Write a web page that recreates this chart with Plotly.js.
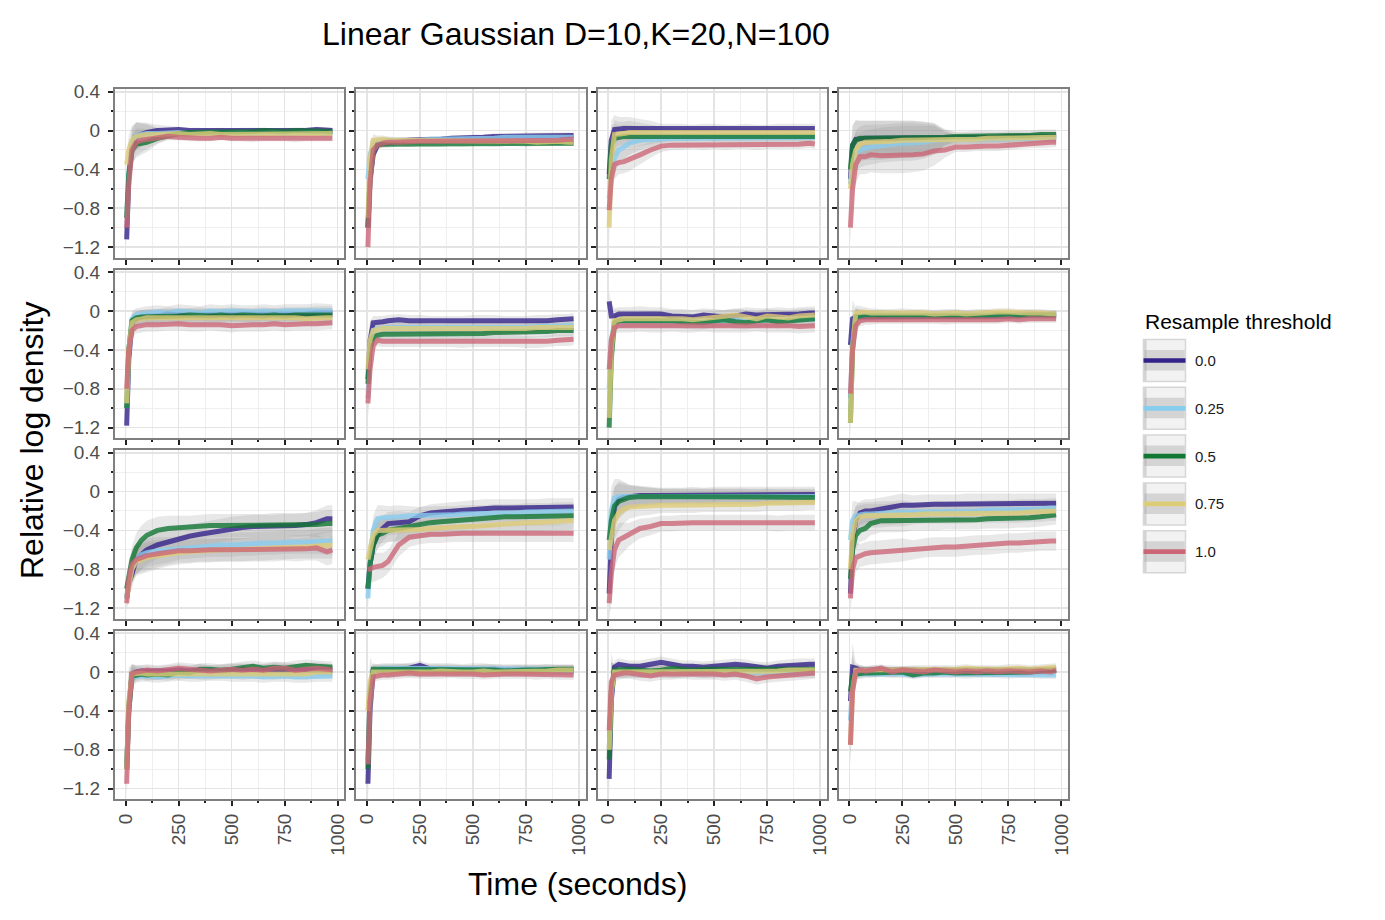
<!DOCTYPE html>
<html>
<head>
<meta charset="utf-8">
<script src="https://cdn.plot.ly/plotly-3.0.1.min.js"></script>
<style>html,body{margin:0;padding:0;background:#fff;}#chart{width:1385px;height:920px;}</style>
</head>
<body>
<div id="chart"></div>
<script>
// ---------------- DATA ----------------
const times = [5,15,30,50,75,100,150,200,250,300,350,400,450,500,550,600,650,700,750,800,850,900,950,975];
const thresholds = ['0.0','0.25','0.5','0.75','1.0'];
const seriesColors = ['#332288','#88CCEE','#117733','#DDCC77','#CC6677'];
const yTickVals = [-1.2,-0.8,-0.4,0,0.4];
const yTickText = ['\u22121.2','\u22120.8','\u22120.4','0','0.4'];
const yMinorVals = [-1.0,-0.6,-0.2,0.2];
const xTickVals = [0,250,500,750,1000];
const xTickText = ['0','250','500','750','1000'];
const xMinorVals = [125,375,625,875];

// each panel: one row per threshold (0.0, 0.25, 0.5, 0.75, 1.0)
const r1c1 = [
 [-1.12,-0.5,-0.15,-0.06,-0.04,-0.02, 0.0,0.01,0.01,0.0,0.0,-0.01, 0.0,-0.01,0.0,0.0,0.0,-0.01, 0.0,0.0,0.0,0.01,0.0,0.0],
 [-0.9,-0.45,-0.12,-0.05,-0.04,-0.03, -0.03,-0.02,-0.02,-0.03,-0.02,-0.02, -0.03,-0.02,-0.02,-0.03,-0.02,-0.02, -0.03,-0.02,-0.02,-0.02,-0.03,-0.02],
 [-0.9,-0.45,-0.2,-0.14,-0.13,-0.12, -0.08,-0.05,-0.03,-0.02,-0.02,-0.01, -0.01,-0.01,-0.01,-0.01,0.0,-0.01, -0.01,0.0,0.0,0.0,0.0,-0.01],
 [-0.35,-0.2,-0.1,-0.06,-0.05,-0.04, -0.04,-0.03,-0.03,-0.04,-0.03,-0.03, -0.04,-0.04,-0.03,-0.03,-0.04,-0.03, -0.03,-0.04,-0.03,-0.03,-0.03,-0.03],
 [-1.0,-0.55,-0.2,-0.12,-0.1,-0.09, -0.07,-0.06,-0.07,-0.08,-0.08,-0.08, -0.07,-0.08,-0.08,-0.09,-0.08,-0.08, -0.08,-0.09,-0.08,-0.08,-0.08,-0.08]
];
const r1c1_band = [0.1,0.15,0.15,0.14,0.12,0.1, 0.06,0.04,0.03,0.03,0.03,0.03, 0.03,0.03,0.03,0.03,0.03,0.03, 0.03,0.03,0.03,0.03,0.03,0.03];

const r1c2 = [
 [-1.0,-0.5,-0.25,-0.15,-0.13,-0.12, -0.11,-0.1,-0.1,-0.09,-0.09,-0.08, -0.08,-0.07,-0.07,-0.06,-0.06,-0.06, -0.05,-0.05,-0.05,-0.05,-0.05,-0.05],
 [-0.5,-0.25,-0.15,-0.12,-0.11,-0.11, -0.1,-0.1,-0.1,-0.09,-0.09,-0.09, -0.08,-0.08,-0.08,-0.08,-0.07,-0.07, -0.07,-0.06,-0.06,-0.06,-0.06,-0.07],
 [-1.0,-0.5,-0.2,-0.15,-0.14,-0.14, -0.13,-0.14,-0.13,-0.14,-0.14,-0.13, -0.14,-0.13,-0.13,-0.14,-0.13,-0.13, -0.14,-0.13,-0.13,-0.13,-0.13,-0.13],
 [-0.9,-0.3,-0.1,-0.09,-0.09,-0.1, -0.1,-0.1,-0.1,-0.1,-0.1,-0.1, -0.11,-0.11,-0.1,-0.11,-0.11,-0.11, -0.11,-0.12,-0.11,-0.11,-0.12,-0.12],
 [-1.2,-0.55,-0.2,-0.15,-0.13,-0.12, -0.12,-0.11,-0.11,-0.11,-0.11,-0.11, -0.11,-0.1,-0.1,-0.1,-0.1,-0.1, -0.1,-0.1,-0.1,-0.1,-0.09,-0.09]
];
const r1c2_band = [0.1,0.15,0.06,0.04,0.04,0.04, 0.03,0.03,0.03,0.03,0.03,0.03, 0.03,0.03,0.03,0.03,0.03,0.03, 0.03,0.03,0.03,0.03,0.03,0.03];

const r1c3 = [
 [-0.45,-0.1,0.01,0.02,0.02,0.02, 0.02,0.02,0.01,0.02,0.02,0.01, 0.02,0.02,0.01,0.01,0.02,0.01, 0.01,0.02,0.02,0.02,0.02,0.02],
 [-0.7,-0.4,-0.28,-0.2,-0.17,-0.13, -0.1,-0.09,-0.08,-0.08,-0.08,-0.08, -0.08,-0.07,-0.08,-0.08,-0.08,-0.07, -0.08,-0.08,-0.07,-0.08,-0.07,-0.07],
 [-0.5,-0.15,-0.08,-0.07,-0.06,-0.06, -0.06,-0.06,-0.06,-0.06,-0.06,-0.06, -0.05,-0.06,-0.06,-0.06,-0.06,-0.06, -0.06,-0.06,-0.06,-0.06,-0.06,-0.06],
 [-1.0,-0.3,-0.04,-0.03,-0.03,-0.02, -0.02,-0.02,-0.02,-0.03,-0.02,-0.02, -0.02,-0.03,-0.02,-0.02,-0.02,-0.02, -0.02,-0.02,-0.02,-0.03,-0.02,-0.02],
 [-0.82,-0.5,-0.35,-0.33,-0.32,-0.3, -0.25,-0.2,-0.16,-0.15,-0.15,-0.14, -0.15,-0.14,-0.15,-0.14,-0.14,-0.15, -0.14,-0.14,-0.14,-0.14,-0.13,-0.14]
];
const r1c3_band = [0.15,0.2,0.15,0.12,0.12,0.12, 0.1,0.08,0.06,0.05,0.05,0.05, 0.05,0.05,0.05,0.05,0.05,0.05, 0.05,0.05,0.05,0.05,0.05,0.05];

const r1c4 = [
 [-0.5,-0.15,-0.09,-0.08,-0.08,-0.08, -0.08,-0.08,-0.08,-0.08,-0.08,-0.08, -0.07,-0.07,-0.07,-0.07,-0.07,-0.07, -0.06,-0.06,-0.06,-0.06,-0.06,-0.06],
 [-0.55,-0.3,-0.22,-0.2,-0.18,-0.17, -0.15,-0.14,-0.13,-0.13,-0.12,-0.1, -0.09,-0.09,-0.09,-0.09,-0.08,-0.08, -0.08,-0.08,-0.08,-0.07,-0.07,-0.07],
 [-0.4,-0.15,-0.1,-0.08,-0.08,-0.08, -0.08,-0.08,-0.08,-0.08,-0.08,-0.07, -0.07,-0.06,-0.06,-0.05,-0.05,-0.05, -0.05,-0.05,-0.05,-0.04,-0.04,-0.04],
 [-0.6,-0.35,-0.2,-0.14,-0.12,-0.12, -0.12,-0.11,-0.1,-0.1,-0.1,-0.09, -0.09,-0.09,-0.09,-0.09,-0.08,-0.08, -0.08,-0.08,-0.08,-0.07,-0.07,-0.07],
 [-1.0,-0.6,-0.35,-0.27,-0.27,-0.25, -0.26,-0.26,-0.26,-0.25,-0.24,-0.21, -0.2,-0.17,-0.17,-0.16,-0.16,-0.16, -0.15,-0.14,-0.13,-0.13,-0.12,-0.12]
];
const r1c4_band = [0.15,0.2,0.2,0.18,0.18,0.18, 0.18,0.18,0.18,0.18,0.17,0.15, 0.08,0.05,0.05,0.05,0.05,0.05, 0.05,0.05,0.05,0.05,0.05,0.05];

const r2c1 = [
 [-1.18,-0.5,-0.12,-0.08,-0.06,-0.05, -0.05,-0.03,-0.04,-0.04,-0.03,-0.04, -0.04,-0.03,-0.04,-0.04,-0.03,-0.04, -0.03,-0.03,-0.03,-0.02,-0.02,-0.02],
 [-1.0,-0.4,-0.08,-0.04,-0.03,-0.02, -0.01,-0.02,0.0,-0.01,-0.02,0.0, -0.01,0.0,-0.01,-0.01,0.0,-0.01, 0.0,0.0,0.0,0.01,0.0,0.0],
 [-1.0,-0.4,-0.1,-0.07,-0.06,-0.06, -0.05,-0.05,-0.05,-0.04,-0.05,-0.05, -0.04,-0.05,-0.04,-0.05,-0.05,-0.04, -0.05,-0.04,-0.04,-0.04,-0.04,-0.04],
 [-0.95,-0.4,-0.12,-0.09,-0.08,-0.07, -0.07,-0.07,-0.06,-0.07,-0.07,-0.07, -0.07,-0.06,-0.07,-0.07,-0.07,-0.06, -0.07,-0.07,-0.08,-0.07,-0.07,-0.07],
 [-0.8,-0.4,-0.2,-0.16,-0.15,-0.14, -0.14,-0.13,-0.13,-0.14,-0.14,-0.13, -0.14,-0.15,-0.14,-0.14,-0.14,-0.13, -0.14,-0.13,-0.13,-0.13,-0.12,-0.12]
];
const r2c1_band = [0.12,0.15,0.08,0.07,0.07,0.07, 0.07,0.07,0.07,0.07,0.07,0.07, 0.07,0.07,0.07,0.07,0.07,0.07, 0.07,0.07,0.07,0.07,0.07,0.07];

const r2c2 = [
 [-0.7,-0.3,-0.12,-0.11,-0.11,-0.1, -0.09,-0.1,-0.1,-0.11,-0.11,-0.11, -0.11,-0.1,-0.1,-0.1,-0.11,-0.11, -0.11,-0.1,-0.1,-0.09,-0.09,-0.08],
 [-0.9,-0.4,-0.2,-0.18,-0.18,-0.17, -0.17,-0.17,-0.17,-0.18,-0.18,-0.17, -0.17,-0.17,-0.17,-0.17,-0.17,-0.17, -0.17,-0.16,-0.16,-0.16,-0.15,-0.15],
 [-0.75,-0.4,-0.27,-0.25,-0.24,-0.24, -0.24,-0.23,-0.23,-0.24,-0.23,-0.23, -0.24,-0.23,-0.23,-0.22,-0.22,-0.22, -0.22,-0.21,-0.21,-0.2,-0.2,-0.2],
 [-0.6,-0.3,-0.2,-0.19,-0.18,-0.18, -0.18,-0.18,-0.18,-0.19,-0.19,-0.18, -0.18,-0.18,-0.18,-0.18,-0.18,-0.18, -0.18,-0.17,-0.17,-0.17,-0.17,-0.17],
 [-0.95,-0.6,-0.35,-0.3,-0.31,-0.31, -0.31,-0.31,-0.31,-0.31,-0.31,-0.31, -0.32,-0.31,-0.31,-0.31,-0.31,-0.31, -0.32,-0.32,-0.31,-0.3,-0.3,-0.29]
];
const r2c2_band = [0.15,0.2,0.07,0.06,0.06,0.06, 0.06,0.06,0.06,0.06,0.06,0.06, 0.06,0.06,0.06,0.06,0.06,0.06, 0.06,0.06,0.06,0.06,0.06,0.06];

const r2c3 = [
 [0.1,-0.05,-0.05,-0.03,-0.03,-0.03, -0.02,-0.03,-0.03,-0.05,-0.05,-0.06, -0.04,-0.05,-0.06,-0.05,-0.03,-0.04, -0.04,-0.03,-0.04,-0.03,-0.02,-0.02],
 [-0.8,-0.3,-0.12,-0.1,-0.1,-0.1, -0.1,-0.1,-0.1,-0.1,-0.1,-0.1, -0.11,-0.1,-0.1,-0.09,-0.1,-0.1, -0.09,-0.09,-0.09,-0.09,-0.08,-0.08],
 [-1.2,-0.5,-0.12,-0.1,-0.1,-0.1, -0.09,-0.1,-0.1,-0.1,-0.11,-0.12, -0.12,-0.1,-0.09,-0.11,-0.12,-0.1, -0.09,-0.11,-0.1,-0.09,-0.08,-0.08],
 [-1.1,-0.4,-0.1,-0.09,-0.08,-0.08, -0.08,-0.07,-0.08,-0.08,-0.08,-0.09, -0.08,-0.07,-0.06,-0.04,-0.06,-0.08, -0.05,-0.06,-0.07,-0.05,-0.04,-0.04],
 [-0.6,-0.3,-0.17,-0.15,-0.15,-0.15, -0.14,-0.15,-0.15,-0.14,-0.15,-0.15, -0.14,-0.15,-0.15,-0.15,-0.15,-0.14, -0.15,-0.15,-0.15,-0.16,-0.15,-0.15]
];
const r2c3_band = [0.12,0.12,0.08,0.07,0.07,0.07, 0.07,0.07,0.07,0.07,0.07,0.07, 0.07,0.07,0.07,0.07,0.07,0.07, 0.07,0.07,0.07,0.07,0.07,0.07];

const r2c4 = [
 [-0.35,-0.08,-0.06,-0.06,-0.06,-0.05, -0.05,-0.05,-0.05,-0.05,-0.05,-0.05, -0.05,-0.05,-0.05,-0.05,-0.05,-0.05, -0.05,-0.04,-0.04,-0.04,-0.04,-0.04],
 [-0.9,-0.35,-0.05,-0.04,-0.04,-0.04, -0.03,-0.04,-0.04,-0.03,-0.04,-0.04, -0.04,-0.03,-0.04,-0.04,-0.03,-0.04, -0.04,-0.04,-0.03,-0.04,-0.04,-0.04],
 [-1.15,-0.4,-0.06,-0.05,-0.05,-0.05, -0.05,-0.06,-0.05,-0.05,-0.06,-0.05, -0.05,-0.06,-0.05,-0.05,-0.05,-0.04, -0.05,-0.05,-0.04,-0.04,-0.04,-0.04],
 [-1.15,-0.4,-0.02,-0.01,-0.01,-0.02, -0.02,-0.02,-0.01,-0.02,-0.02,-0.03, -0.02,-0.02,-0.03,-0.02,-0.02,-0.01, -0.01,-0.02,-0.02,-0.02,-0.03,-0.03],
 [-0.85,-0.4,-0.15,-0.1,-0.09,-0.09, -0.09,-0.09,-0.09,-0.09,-0.09,-0.09, -0.1,-0.09,-0.09,-0.09,-0.09,-0.09, -0.08,-0.09,-0.08,-0.08,-0.08,-0.08]
];
const r2c4_band = [0.15,0.2,0.08,0.06,0.05,0.05, 0.04,0.04,0.04,0.04,0.04,0.04, 0.04,0.04,0.04,0.04,0.04,0.04, 0.04,0.04,0.04,0.04,0.04,0.04];

const r3c1 = [
 [-1.1,-0.95,-0.85,-0.7,-0.65,-0.6, -0.55,-0.52,-0.48,-0.46,-0.44,-0.42, -0.4,-0.38,-0.37,-0.36,-0.36,-0.36, -0.35,-0.35,-0.34,-0.32,-0.28,-0.28],
 [-1.1,-0.9,-0.78,-0.7,-0.65,-0.63, -0.61,-0.6,-0.58,-0.57,-0.56,-0.55, -0.55,-0.55,-0.54,-0.54,-0.53,-0.53, -0.52,-0.52,-0.52,-0.51,-0.51,-0.51],
 [-1.0,-0.85,-0.7,-0.58,-0.5,-0.45, -0.4,-0.38,-0.37,-0.37,-0.36,-0.35, -0.35,-0.35,-0.35,-0.35,-0.35,-0.34, -0.34,-0.34,-0.34,-0.34,-0.33,-0.33],
 [-1.1,-0.95,-0.8,-0.72,-0.7,-0.68, -0.66,-0.64,-0.63,-0.62,-0.61,-0.61, -0.6,-0.6,-0.6,-0.59,-0.59,-0.58, -0.58,-0.57,-0.57,-0.56,-0.55,-0.55],
 [-1.15,-0.9,-0.75,-0.7,-0.68,-0.66, -0.64,-0.62,-0.61,-0.61,-0.6,-0.6, -0.6,-0.6,-0.6,-0.6,-0.6,-0.6, -0.59,-0.6,-0.59,-0.58,-0.62,-0.6]
];
const r3c1_band = [0.1,0.12,0.14,0.15,0.15,0.15, 0.14,0.13,0.12,0.12,0.12,0.12, 0.12,0.12,0.12,0.12,0.12,0.12, 0.12,0.12,0.12,0.13,0.14,0.14];

const r3c2 = [
 [-1.0,-0.75,-0.55,-0.45,-0.38,-0.33, -0.32,-0.31,-0.25,-0.22,-0.21,-0.2, -0.19,-0.18,-0.17,-0.17,-0.17,-0.17, -0.17,-0.17,-0.16,-0.16,-0.16,-0.16],
 [-1.1,-0.7,-0.4,-0.28,-0.27,-0.27, -0.26,-0.25,-0.25,-0.24,-0.24,-0.24, -0.23,-0.23,-0.23,-0.22,-0.22,-0.22, -0.21,-0.21,-0.21,-0.2,-0.2,-0.2],
 [-1.0,-0.75,-0.55,-0.45,-0.43,-0.4, -0.38,-0.36,-0.33,-0.32,-0.31,-0.3, -0.3,-0.29,-0.28,-0.27,-0.26,-0.26, -0.26,-0.26,-0.26,-0.26,-0.25,-0.25],
 [-0.7,-0.6,-0.45,-0.4,-0.4,-0.4, -0.4,-0.4,-0.39,-0.38,-0.37,-0.37, -0.36,-0.36,-0.35,-0.34,-0.33,-0.33, -0.32,-0.32,-0.31,-0.31,-0.3,-0.3],
 [-0.8,-0.8,-0.78,-0.77,-0.76,-0.72, -0.55,-0.47,-0.45,-0.44,-0.44,-0.43, -0.43,-0.43,-0.43,-0.43,-0.43,-0.43, -0.43,-0.43,-0.43,-0.43,-0.43,-0.43]
];
const r3c2_band = [0.12,0.15,0.15,0.14,0.13,0.12, 0.12,0.1,0.09,0.09,0.09,0.09, 0.09,0.09,0.09,0.09,0.09,0.09, 0.09,0.09,0.09,0.09,0.09,0.09];

const r3c3 = [
 [-1.05,-0.5,-0.15,-0.08,-0.06,-0.05, -0.04,-0.04,-0.04,-0.04,-0.04,-0.03, -0.04,-0.03,-0.03,-0.03,-0.03,-0.03, -0.03,-0.03,-0.03,-0.03,-0.03,-0.03],
 [-0.7,-0.2,-0.07,-0.05,-0.05,-0.05, -0.05,-0.05,-0.05,-0.05,-0.05,-0.05, -0.05,-0.05,-0.05,-0.05,-0.05,-0.05, -0.05,-0.05,-0.05,-0.05,-0.05,-0.05],
 [-0.5,-0.3,-0.15,-0.1,-0.08,-0.06, -0.05,-0.05,-0.05,-0.05,-0.05,-0.05, -0.05,-0.05,-0.05,-0.05,-0.05,-0.06, -0.05,-0.06,-0.06,-0.06,-0.06,-0.06],
 [-0.6,-0.45,-0.3,-0.22,-0.18,-0.16, -0.15,-0.15,-0.14,-0.14,-0.14,-0.14, -0.13,-0.13,-0.13,-0.13,-0.13,-0.13, -0.12,-0.12,-0.12,-0.12,-0.11,-0.11],
 [-1.15,-0.85,-0.6,-0.5,-0.47,-0.44, -0.38,-0.36,-0.33,-0.33,-0.32,-0.32, -0.32,-0.32,-0.32,-0.32,-0.32,-0.32, -0.32,-0.33,-0.32,-0.32,-0.32,-0.32]
];
const r3c3_band = [0.2,0.25,0.2,0.18,0.15,0.12, 0.1,0.09,0.08,0.08,0.08,0.08, 0.08,0.08,0.08,0.08,0.08,0.08, 0.08,0.08,0.08,0.08,0.08,0.08];

const r3c4 = [
 [-1.05,-0.5,-0.3,-0.22,-0.2,-0.2, -0.18,-0.16,-0.14,-0.14,-0.13,-0.13, -0.13,-0.13,-0.12,-0.12,-0.12,-0.12, -0.12,-0.12,-0.12,-0.12,-0.12,-0.12],
 [-0.5,-0.3,-0.25,-0.24,-0.23,-0.23, -0.22,-0.22,-0.21,-0.21,-0.21,-0.2, -0.2,-0.2,-0.2,-0.2,-0.19,-0.19, -0.19,-0.18,-0.18,-0.18,-0.17,-0.17],
 [-0.9,-0.6,-0.45,-0.4,-0.38,-0.33, -0.3,-0.3,-0.3,-0.3,-0.3,-0.3, -0.29,-0.29,-0.29,-0.29,-0.28,-0.28, -0.28,-0.27,-0.27,-0.26,-0.25,-0.24],
 [-0.8,-0.45,-0.3,-0.26,-0.25,-0.25, -0.25,-0.24,-0.24,-0.24,-0.23,-0.23, -0.23,-0.23,-0.23,-0.22,-0.22,-0.22, -0.22,-0.22,-0.21,-0.21,-0.2,-0.2],
 [-1.1,-0.8,-0.68,-0.66,-0.64,-0.63, -0.62,-0.61,-0.6,-0.6,-0.58,-0.57, -0.57,-0.57,-0.56,-0.55,-0.55,-0.54, -0.53,-0.53,-0.52,-0.51,-0.51,-0.51]
];
const r3c4_band = [0.15,0.2,0.15,0.12,0.12,0.12, 0.12,0.12,0.12,0.1,0.1,0.1, 0.1,0.1,0.1,0.1,0.1,0.1, 0.1,0.1,0.1,0.1,0.1,0.1];

const r4c1 = [
 [-1.0,-0.35,-0.02,0.0,0.01,0.01, 0.0,0.01,0.02,0.01,0.02,0.01, 0.01,0.02,0.03,0.02,0.02,0.03, 0.02,0.03,0.02,0.03,0.02,0.02],
 [-1.0,-0.4,-0.05,-0.04,-0.04,-0.04, -0.05,-0.04,-0.03,-0.04,-0.04,-0.03, -0.03,-0.04,-0.04,-0.04,-0.05,-0.04, -0.04,-0.05,-0.05,-0.04,-0.04,-0.04],
 [-1.0,-0.4,-0.04,-0.03,-0.02,-0.03, -0.02,-0.03,0.0,-0.01,0.03,0.03, 0.02,0.03,0.05,0.06,0.04,0.05, 0.04,0.06,0.07,0.06,0.05,0.05],
 [-1.0,-0.3,-0.02,-0.01,-0.01,-0.02, -0.02,-0.01,-0.02,-0.01,-0.02,-0.02, -0.01,-0.01,-0.02,-0.01,-0.01,-0.02, -0.01,-0.01,-0.02,0.0,0.0,0.0],
 [-1.15,-0.4,-0.02,0.0,0.01,0.02, 0.01,0.02,0.04,0.03,0.02,0.01, 0.02,0.03,0.02,0.03,0.02,0.04, 0.04,0.02,0.03,0.04,0.03,0.02]
];
const r4c1_band = [0.2,0.35,0.1,0.07,0.06,0.06, 0.06,0.06,0.06,0.06,0.06,0.06, 0.06,0.06,0.06,0.06,0.06,0.06, 0.06,0.06,0.06,0.06,0.06,0.06];

const r4c2 = [
 [-1.15,-0.4,0.01,0.02,0.02,0.02, 0.03,0.04,0.07,0.03,0.03,0.02, 0.02,0.02,0.03,0.03,0.02,0.02, 0.02,0.02,0.02,0.02,0.02,0.02],
 [-0.9,-0.3,0.02,0.03,0.04,0.04, 0.04,0.04,0.03,0.04,0.04,0.04, 0.03,0.04,0.04,0.03,0.03,0.03, 0.03,0.03,0.03,0.02,0.02,0.02],
 [-1.0,-0.2,0.03,0.03,0.03,0.03, 0.03,0.03,0.02,0.02,0.02,0.03, 0.02,0.02,0.02,0.02,0.01,0.02, 0.02,0.02,0.03,0.03,0.03,0.03],
 [-0.4,-0.1,0.0,0.0,0.0,-0.01, 0.0,0.0,0.0,0.0,0.01,0.0, 0.0,0.0,0.01,0.0,0.0,0.0, 0.01,0.01,0.01,0.02,0.02,0.02],
 [-0.95,-0.3,-0.05,-0.04,-0.03,-0.03, -0.02,-0.01,-0.02,-0.02,-0.02,-0.01, -0.02,-0.02,-0.03,-0.02,-0.02,-0.02, -0.02,-0.03,-0.02,-0.03,-0.03,-0.03]
];
const r4c2_band = [0.2,0.25,0.06,0.05,0.05,0.05, 0.05,0.05,0.05,0.05,0.05,0.05, 0.05,0.05,0.05,0.05,0.05,0.05, 0.05,0.05,0.05,0.05,0.05,0.05];

const r4c3 = [
 [-1.1,-0.3,0.05,0.08,0.07,0.06, 0.06,0.08,0.1,0.08,0.06,0.06, 0.05,0.06,0.07,0.08,0.07,0.05, 0.04,0.06,0.07,0.08,0.08,0.08],
 [-0.8,-0.2,0.0,0.0,0.0,0.0, 0.0,0.01,0.0,0.0,0.0,0.01, 0.0,0.0,0.0,0.0,0.01,0.0, 0.0,0.0,0.0,0.0,0.0,0.0],
 [-0.9,-0.2,0.02,0.03,0.03,0.03, 0.02,0.01,0.02,0.04,0.03,0.02, 0.03,0.03,0.02,0.03,0.02,0.02, 0.02,0.02,0.02,0.03,0.03,0.03],
 [-0.8,-0.2,0.0,0.0,0.0,0.01, 0.0,0.01,0.01,0.0,0.01,0.01, 0.0,0.01,0.01,0.01,0.0,0.01, 0.01,0.01,0.02,0.02,0.02,0.02],
 [-0.6,-0.1,-0.03,-0.02,-0.01,-0.01, -0.03,-0.04,-0.02,-0.02,-0.01,-0.02, -0.02,-0.02,-0.03,-0.02,-0.04,-0.07, -0.05,-0.04,-0.03,-0.02,-0.01,-0.01]
];
const r4c3_band = [0.2,0.3,0.07,0.06,0.06,0.06, 0.06,0.06,0.06,0.06,0.06,0.06, 0.06,0.06,0.06,0.06,0.06,0.06, 0.06,0.06,0.06,0.06,0.06,0.06];

const r4c4 = [
 [-0.3,0.05,0.04,0.02,0.02,0.02, 0.01,0.01,0.02,0.02,0.01,0.01, 0.02,0.01,0.01,0.01,0.02,0.01, 0.01,0.02,0.01,0.01,0.02,0.02],
 [-0.5,-0.1,-0.02,-0.02,-0.02,-0.02, -0.01,-0.02,-0.02,-0.03,-0.02,-0.02, -0.02,-0.02,-0.03,-0.02,-0.02,-0.02, -0.03,-0.02,-0.02,-0.03,-0.03,-0.03],
 [-0.2,-0.05,-0.02,-0.01,-0.01,-0.01, -0.01,-0.01,0.0,-0.03,-0.01,-0.01, 0.0,-0.01,-0.01,-0.01,0.0,-0.01, 0.0,-0.01,0.0,0.01,0.01,0.02],
 [-0.75,-0.2,0.02,0.02,0.02,0.03, 0.03,0.03,0.02,0.03,0.03,0.03, 0.03,0.03,0.04,0.03,0.03,0.03, 0.04,0.04,0.03,0.04,0.05,0.05],
 [-0.75,-0.2,0.0,0.02,0.01,0.02, 0.04,0.0,0.02,0.01,0.0,0.02, 0.01,0.0,0.01,0.0,0.01,0.0, 0.01,0.0,0.0,0.01,0.0,0.02]
];
const r4c4_band = [0.2,0.25,0.06,0.05,0.04,0.04, 0.04,0.04,0.04,0.04,0.04,0.04, 0.04,0.04,0.04,0.04,0.04,0.04, 0.04,0.04,0.04,0.04,0.04,0.04];

const panels = [r1c1,r1c2,r1c3,r1c4, r2c1,r2c2,r2c3,r2c4, r3c1,r3c2,r3c3,r3c4, r4c1,r4c2,r4c3,r4c4];
const bands = [r1c1_band,r1c2_band,r1c3_band,r1c4_band, r2c1_band,r2c2_band,r2c3_band,r2c4_band,
               r3c1_band,r3c2_band,r3c3_band,r3c4_band, r4c1_band,r4c2_band,r4c3_band,r4c4_band];

// ---------------- LAYOUT GEOMETRY ----------------
const FONT = 'Liberation Sans, Arial, Helvetica, sans-serif';
const W = 1385, H = 920;
const M = {l:115, r:317, t:89, b:121};
const PW = W - M.l - M.r, PH = H - M.t - M.b;   // 953 x 710
const panelW = 229.25, panelH = 168.5, gap = 12;
const px2x = px => (px - M.l) / PW;
const py2y = py => (H - M.b - py) / PH;

const traces = [];
const layout = {
  width: W, height: H, margin: M,
  paper_bgcolor: '#ffffff', plot_bgcolor: '#ffffff',
  showlegend: false, font: {family: FONT, color: '#000'},
  shapes: [], annotations: []
};

panels.forEach((panel, i) => {
  const row = Math.floor(i / 4), col = i % 4;
  const xa = i === 0 ? 'x' : 'x' + (i + 1);
  const ya = i === 0 ? 'y' : 'y' + (i + 1);
  const xKey = i === 0 ? 'xaxis' : 'xaxis' + (i + 1);
  const yKey = i === 0 ? 'yaxis' : 'yaxis' + (i + 1);
  const x0 = col * (panelW + gap), y0 = PH - row * (panelH + gap);
  const common = {
    showline: true, mirror: true, linecolor: '#7f7f7f', linewidth: 2,
    ticks: 'outside', ticklen: 5, tickwidth: 2, tickcolor: '#222',
    showgrid: true, gridcolor: '#e4e4e4', gridwidth: 1.6, zeroline: false,
    tickfont: {family: FONT, size: 19, color: '#4d4d4d'},
    fixedrange: true
  };
  layout[xKey] = Object.assign({}, common, {
    domain: [x0 / PW, (x0 + panelW) / PW], anchor: ya,
    range: [-50, 1031], tickmode: 'array', tickvals: xTickVals, ticktext: xTickText,
    showticklabels: row === 3, tickangle: -90,
    minor: {tickmode: 'array', tickvals: xMinorVals, ticks: 'outside', ticklen: 2, tickwidth: 2,
            tickcolor: '#222', showgrid: true, gridcolor: '#efefef', gridwidth: 1}
  });
  layout[yKey] = Object.assign({}, common, {
    domain: [(y0 - panelH) / PH, y0 / PH], anchor: xa,
    range: [-1.307, 0.428], tickmode: 'array', tickvals: yTickVals, ticktext: yTickText,
    showticklabels: col === 0, ticklabelstandoff: 4,
    minor: {tickmode: 'array', tickvals: yMinorVals, ticks: 'outside', ticklen: 2, tickwidth: 2,
            tickcolor: '#222', showgrid: true, gridcolor: '#efefef', gridwidth: 1}
  });
  // ribbons
  panel.forEach((vals) => {
    const lo = vals.map((v, k) => v - bands[i][k]);
    const hi = vals.map((v, k) => v + bands[i][k]);
    traces.push({x: times, y: lo, xaxis: xa, yaxis: ya, type: 'scatter', mode: 'lines',
                 line: {color: 'rgba(0,0,0,0)', width: 0}, hoverinfo: 'skip'});
    traces.push({x: times, y: hi, xaxis: xa, yaxis: ya, type: 'scatter', mode: 'lines',
                 fill: 'tonexty', fillcolor: 'rgba(150,150,150,0.22)',
                 line: {color: 'rgba(0,0,0,0)', width: 0}, hoverinfo: 'skip'});
  });
  // lines
  panel.forEach((vals, s) => {
    traces.push({x: times, y: vals, xaxis: xa, yaxis: ya, type: 'scatter', mode: 'lines',
                 name: thresholds[s], opacity: 0.8,
                 line: {color: seriesColors[s], width: 5}});
  });
});

// ---------------- TITLES ----------------
layout.annotations.push({text: 'Linear Gaussian D=10,K=20,N=100', xref: 'paper', yref: 'paper',
  x: px2x(576), y: py2y(34), xanchor: 'center', yanchor: 'middle', showarrow: false,
  font: {family: FONT, size: 32, color: '#000'}});
layout.annotations.push({text: 'Time (seconds)', xref: 'paper', yref: 'paper',
  x: px2x(577), y: py2y(884), xanchor: 'center', yanchor: 'middle', showarrow: false,
  font: {family: FONT, size: 32, color: '#000'}});
layout.annotations.push({text: 'Relative log density', xref: 'paper', yref: 'paper',
  x: px2x(32), y: py2y(441), xanchor: 'center', yanchor: 'middle', showarrow: false, textangle: -90,
  font: {family: FONT, size: 32, color: '#000'}});

// ---------------- LEGEND (drawn manually, ggplot style) ----------------
layout.annotations.push({text: 'Resample threshold', xref: 'paper', yref: 'paper',
  x: px2x(1143), y: py2y(321), xanchor: 'left', yanchor: 'middle', showarrow: false,
  font: {family: FONT, size: 21, color: '#000'}});
thresholds.forEach((lab, k) => {
  const top = 339.5 + 47.8 * k, bot = top + 42, lx0 = 1143.5, lx1 = 1185.5;
  layout.shapes.push({type: 'rect', xref: 'paper', yref: 'paper', x0: px2x(lx0), x1: px2x(lx1),
    y0: py2y(bot), y1: py2y(top), fillcolor: '#f2f2f2', line: {color: '#d6d6d6', width: 1.5}, layer: 'above'});
  layout.shapes.push({type: 'rect', xref: 'paper', yref: 'paper', x0: px2x(lx0 + 0.75), x1: px2x(lx1 - 0.75),
    y0: py2y(top + 31), y1: py2y(top + 10.5), fillcolor: '#d4d4d4', line: {width: 0}, layer: 'above'});
  layout.shapes.push({type: 'rect', xref: 'paper', yref: 'paper', x0: px2x(lx0 + 0.75), x1: px2x(lx0 + 3),
    y0: py2y(bot - 0.75), y1: py2y(top + 0.75), fillcolor: 'rgba(150,150,150,0.35)', line: {width: 0}, layer: 'above'});
  layout.shapes.push({type: 'line', xref: 'paper', yref: 'paper', x0: px2x(lx0), x1: px2x(lx1),
    y0: py2y(top + 21), y1: py2y(top + 21), line: {color: seriesColors[k], width: 4.7}, layer: 'above'});
  layout.annotations.push({text: lab, xref: 'paper', yref: 'paper', x: px2x(1193), y: py2y(top + 21),
    xanchor: 'left', yanchor: 'middle', showarrow: false, font: {family: FONT, size: 15, color: '#1a1a1a'}});
});

Plotly.newPlot('chart', traces, layout, {staticPlot: true, displayModeBar: false});
</script>
</body>
</html>
